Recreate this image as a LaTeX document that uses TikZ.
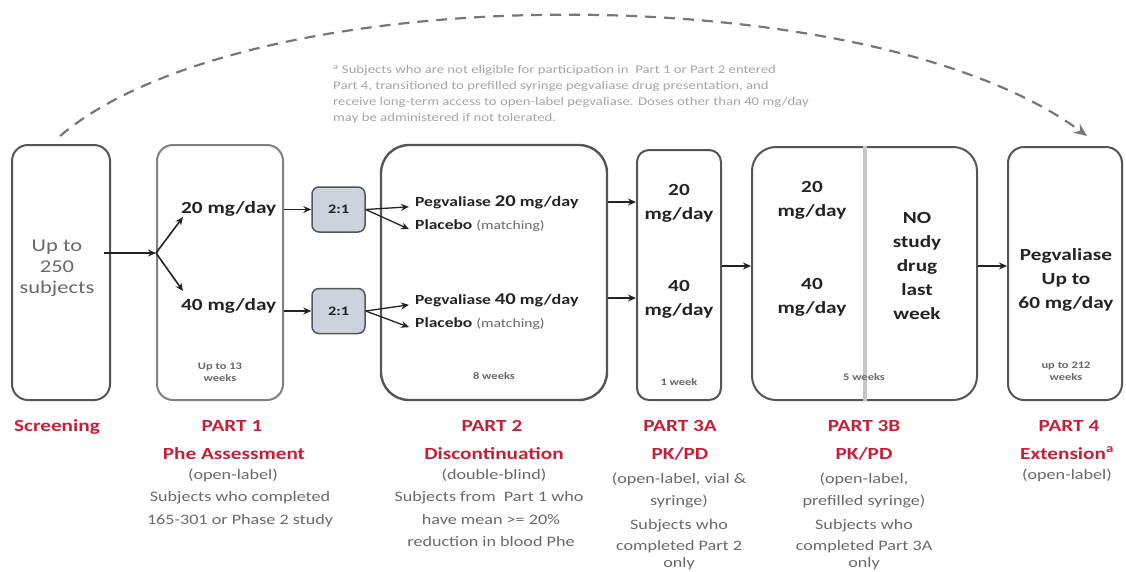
\documentclass[tikz,border=0pt]{standalone}
\usepackage{fontspec}
\setmainfont{Carlito}[FakeStretch=1.25]
\usetikzlibrary{arrows.meta,calc}
\definecolor{redlab}{RGB}{200,30,55}
\definecolor{graytxt}{RGB}{105,105,105}
\definecolor{notetxt}{RGB}{165,165,165}
\definecolor{boxline}{RGB}{85,85,85}
\definecolor{darktxt}{RGB}{35,35,35}
\definecolor{ratiofill}{RGB}{206,210,220}
\tikzset{
  phase/.style={draw=boxline,line width=2pt,rounded corners=16pt,inner sep=0pt},
  ratiobox/.style={draw=boxline,line width=1.5pt,fill=ratiofill,rounded corners=7pt,minimum width=53pt,minimum height=45pt,inner sep=0pt,font=\bfseries\fontsize{13}{15}\selectfont,text=darktxt},
  dose/.style={font=\bfseries\fontsize{17}{24}\selectfont,text=darktxt,align=center,inner sep=0pt},
  arm/.style={font=\bfseries\fontsize{14}{16}\selectfont,text=darktxt,anchor=base west,inner sep=0pt},
  dur/.style={font=\bfseries\fontsize{10}{12}\selectfont,text=graytxt,align=center,inner sep=0pt},
  redl/.style={font=\bfseries\fontsize{17}{20}\selectfont,text=redlab,anchor=base,inner sep=0pt},
  grayl/.style={font=\fontsize{14.5}{17}\selectfont,text=graytxt,anchor=base,inner sep=0pt},
  arr/.style={draw=darktxt,line width=1.6pt,-{Stealth[length=8pt,width=7pt]}},
}
\begin{document}
\begin{tikzpicture}[x=1pt,y=-1pt]
\useasboundingbox (0,0) rectangle (1126,571);
% dashed arc
\coordinate (arcS) at (60,136);
\coordinate (arcE) at (1087,136);
\draw[draw=boxline!80,line width=2.2pt,dash pattern=on 11pt off 8pt,-{Stealth[length=13pt,width=11pt]}]
  (arcS) .. controls (250,-25) and (870,-25) .. (arcE);
% note
\node[font=\fontsize{11.8}{16}\selectfont,text=notetxt,align=left,anchor=north west,inner sep=0pt] (note) at (333,65)
 {\textsuperscript{a} Subjects who are not eligible for participation in\ \ Part 1 or Part 2 entered\\
  Part 4, transitioned to prefilled syringe pegvaliase drug presentation, and\\
  receive long-term access to open-label pegvaliase. Doses other than 40 mg/day\\
  may be administered if not tolerated.};
% boxes
\node[phase,minimum width=98pt,minimum height=255pt] (scr) at (61,272.5) {};
\node[phase,draw=boxline!75,minimum width=126pt,minimum height=255pt] (p1) at (220,272.5) {};
\node[ratiobox] (r1) at (338.5,209.5) {2:1};
\node[ratiobox] (r2) at (338.5,311) {2:1};
\node[phase,line width=2.4pt,rounded corners=28pt,minimum width=226pt,minimum height=255pt] (p2) at (494,272.5) {};
\node[phase,rounded corners=12pt,minimum width=84pt,minimum height=250pt] (p3a) at (679,275) {};
\node[phase,rounded corners=24pt,minimum width=225pt,minimum height=253pt] (p3b) at (864.5,273.5) {};
\node[phase,rounded corners=16pt,minimum width=114pt,minimum height=253pt] (p4) at (1065,273.5) {};
\draw[draw=black!22,line width=4pt] (p3b.north) -- (p3b.south);
% screening text
\node[font=\fontsize{18}{21}\selectfont,text=graytxt,align=center,inner sep=0pt] (scrt) at (57,268) {Up to\\250\\subjects};
% part 1
\coordinate (split) at (156,253);
\coordinate (t20) at (183,217);
\coordinate (t40) at (183,291);
\node[dose,anchor=base west] (d20) at (181,213) {20 mg/day};
\node[dose,anchor=base west] (d40) at (181,310) {40 mg/day};
\node[dur] (p1dur) at (220,372) {Up to 13\\weeks};
\draw[arr] ([xshift=-7pt]scr.east |- split) -- (split);
\draw[arr] (split) -- (t20);
\draw[arr] (split) -- (t40);
\draw[arr] (p1.east |- r1) -- (r1.west);
\draw[arr] (p1.east |- r2) -- (r2.west);
% part 2
\node[arm] (a20) at (415,206) {Pegvaliase \fontsize{16.5}{16}\selectfont 20\fontsize{14.5}{16}\selectfont\ mg/day};
\node[arm] (pl1) at (415,229) {Placebo \mdseries\color{graytxt}\fontsize{12.5}{14}\selectfont(matching)};
\node[arm] (a40) at (415,304) {Pegvaliase \fontsize{16.5}{16}\selectfont 40\fontsize{14.5}{16}\selectfont\ mg/day};
\node[arm] (pl2) at (415,327) {Placebo \mdseries\color{graytxt}\fontsize{12.5}{14}\selectfont(matching)};
\draw[arr,line width=1.3pt] (r1.east) -- ([xshift=-6pt,yshift=-5pt]a20.west);
\draw[arr,line width=1.3pt] (r1.east) -- ([xshift=-6pt,yshift=-4pt]pl1.west);
\draw[arr,line width=1.3pt] (r2.east) -- ([xshift=-6pt,yshift=-5pt]a40.west);
\draw[arr,line width=1.3pt] (r2.east) -- ([xshift=-6pt,yshift=-4pt]pl2.west);
\node[dur] (p2dur) at (494,376) {8 weeks};
% part 3A
\node[dose] (b20) at (679,203) {20\\mg/day};
\node[dose] (b40) at (679,299) {40\\mg/day};
\node[dur] (p3adur) at (679,382) {1 week};
\draw[arr,line width=2pt] (p2.east |- 0,202) -- (p3a.west |- 0,202);
\draw[arr,line width=2pt] (p2.east |- 0,298) -- (p3a.west |- 0,298);
% part 3B
\node[dose] (c20) at (812,200) {20\\mg/day};
\node[dose] (c40) at (812,297) {40\\mg/day};
\node[dose] (nos) at (917,266) {NO\\study\\drug\\last\\week};
\node[dur] (p3bdur) at (864,377) {5 weeks};
\draw[arr,line width=2pt] (p3a.east |- 0,266) -- (p3b.west |- 0,266);
% part 4
\node[dose] (ext) at (1066,280) {Pegvaliase\\Up to\\60 mg/day};
\node[dur] (p4dur) at (1066,371) {up to 212\\weeks};
\draw[arr,line width=2pt] (p3b.east |- 0,266) -- (p4.west |- 0,266);
% labels below
\node[redl] (l0) at (57,431) {Screening};
\node[redl] (l1a) at (232,431) {PART 1};
\node[redl] (l1b) at (234,459) {Phe Assessment};
\node[grayl] (l1c) at (233,479) {(open-label)};
\node[grayl] (l1d) at (240,501) {Subjects who completed};
\node[grayl] (l1e) at (240,524) {165-301 or Phase 2 study};
\node[redl] (l2a) at (492,431) {PART 2};
\node[redl] (l2b) at (494,459) {Discontinuation};
\node[grayl] (l2c) at (494,479) {(double-blind)};
\node[grayl] (l2d) at (489,501) {Subjects from\ \ Part 1 who};
\node[grayl] (l2e) at (491,524) {have mean >= 20\%};
\node[grayl] (l2f) at (491,546) {reduction in blood Phe};
\node[redl] (l3a) at (680,431) {PART 3A};
\node[redl] (l3b) at (680,459) {PK/PD};
\node[grayl] (l3c) at (679,483) {(open-label, vial \&};
\node[grayl] (l3d) at (679,505) {syringe)};
\node[grayl] (l3e) at (679,529) {Subjects who};
\node[grayl] (l3f) at (679,550) {completed Part 2};
\node[grayl] (l3g) at (679,567) {only};
\node[redl] (l4a) at (864,431) {PART 3B};
\node[redl] (l4b) at (864,459) {PK/PD};
\node[grayl] (l4c) at (864,483) {(open-label,};
\node[grayl] (l4d) at (864,505) {prefilled syringe)};
\node[grayl] (l4e) at (864,529) {Subjects who};
\node[grayl] (l4f) at (864,550) {completed Part 3A};
\node[grayl] (l4g) at (864,567) {only};
\node[redl] (l5a) at (1069,431) {PART 4};
\node[redl] (l5b) at (1067,459) {Extension\textsuperscript{a}};
\node[grayl] (l5c) at (1067,479) {(open-label)};
\end{tikzpicture}
\end{document}
